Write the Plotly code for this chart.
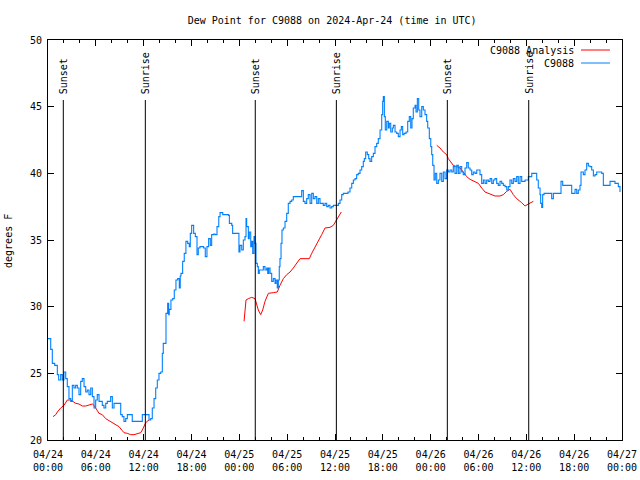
import pandas as pd
import plotly.graph_objects as go

BASE = pd.Timestamp("2024-04-24 00:00")

# Observed dew point (C9088), hours since 04/24 00:00 UTC
obs_hours = [0.00, 0.34, 0.54, 0.84, 1.17, 1.34, 1.59, 1.79, 2.00, 2.22, 2.42, 2.63, 2.85, 3.05, 3.26, 3.47, 3.68, 3.89,
             4.10, 4.30, 4.52, 4.73, 4.93, 5.14, 5.36, 5.56, 5.77, 5.98, 6.18, 6.40, 6.61, 6.81, 7.02, 7.24, 7.44, 7.65,
             7.86, 8.07, 8.28, 8.49, 8.69, 8.91, 9.12, 9.32, 9.53, 9.75, 9.95, 10.16, 10.37, 10.57, 10.79, 11.20, 11.63,
             11.83, 12.04, 12.46, 12.67, 12.88, 13.08, 13.30, 13.51, 13.71, 13.92, 14.14, 14.34, 14.46, 14.80, 15.01,
             15.14, 15.21, 15.42, 15.64, 15.84, 16.05, 16.27, 16.47, 16.59, 16.68, 16.89, 17.09, 17.30, 17.52, 17.72,
             17.85, 18.02, 18.27, 18.48, 18.69, 18.85, 19.06, 19.31, 19.52, 19.73, 19.94, 20.15, 20.36, 20.53, 20.79,
             20.95, 21.20, 21.42, 21.58, 21.92, 22.34, 22.63, 22.75, 23.05, 23.16, 23.54, 23.75, 23.95, 24.08, 24.30,
             24.50, 24.71, 24.84, 24.92, 25.13, 25.25, 25.43, 25.55, 25.68, 25.84, 25.97, 26.09, 26.26, 26.38, 26.51,
             26.76, 27.01, 27.22, 27.43, 27.56, 27.68, 27.85, 28.06, 28.26, 28.48, 28.60, 28.76, 28.89, 29.01, 29.10,
             29.23, 29.35, 29.52, 29.73, 29.94, 30.14, 30.36, 30.57, 30.77, 31.20, 31.61, 31.82, 32.03, 32.24, 32.45,
             32.65, 32.87, 33.08, 33.28, 33.49, 33.71, 33.91, 34.12, 34.33, 34.53, 34.75, 34.96, 35.16, 35.37, 35.59,
             35.79, 36.00, 36.21, 36.42, 36.63, 36.84, 37.04, 37.38, 37.63, 37.88, 38.10, 38.30, 38.51, 38.72, 38.92,
             39.14, 39.35, 39.55, 39.68, 39.85, 40.05, 40.23, 40.39, 40.60, 40.81, 41.02, 41.23, 41.43, 41.65, 41.86,
             41.98, 42.06, 42.19, 42.31, 42.49, 42.69, 42.81, 42.99, 43.19, 43.32, 43.53, 43.74, 43.94, 44.16, 44.32,
             44.49, 44.66, 44.91, 45.12, 45.32, 45.50, 45.66, 45.82, 46.04, 46.16, 46.33, 46.50, 46.66, 46.88, 47.08,
             47.29, 47.50, 47.63, 47.83, 48.01, 48.13, 48.26, 48.42, 48.58, 48.76, 48.96, 49.17, 49.39, 49.59, 49.80,
             50.01, 50.21, 50.43, 50.64, 50.84, 51.05, 51.27, 51.47, 51.68, 51.89, 52.09, 52.31, 52.52, 52.72, 52.94,
             53.15, 53.35, 53.56, 53.78, 53.98, 54.19, 54.40, 54.61, 54.82, 55.03, 55.23, 55.45, 55.66, 55.86, 56.07,
             56.28, 56.48, 56.70, 56.91, 57.11, 57.33, 57.54, 57.74, 57.95, 58.17, 58.37, 58.58, 58.79, 58.99, 59.21,
             59.42, 59.62, 59.84, 60.05, 60.25, 60.46, 60.68, 61.09, 61.30, 61.50, 61.72, 61.80, 61.93, 62.05, 62.22,
             62.56, 62.97, 63.18, 63.39, 63.81, 64.23, 64.35, 64.56, 65.07, 65.48, 65.69, 65.89, 66.11, 66.32, 66.52,
             66.73, 66.86, 67.15, 67.36, 67.57, 67.78, 67.99, 68.20, 68.41, 68.62, 68.83, 69.24, 69.46, 69.66, 70.08,
             70.50, 70.91, 71.12, 71.34, 71.54, 71.75]
obs_dewpt = [27.6, 26.8, 25.75, 25.6, 24.9, 24.5, 24.9, 24.5, 25.1, 24.6, 24.0, 23.1, 22.9, 24.1, 23.9, 24.1, 23.9, 23.4,
             24.4, 24.6, 24.0, 23.6, 23.75, 23.4, 23.9, 23.25, 22.4, 23.0, 23.4, 22.9, 22.9, 22.6, 22.4, 22.75, 22.9, 22.9,
             23.25, 22.4, 22.75, 22.75, 22.75, 22.75, 21.9, 21.75, 21.4, 21.6, 21.9, 21.9, 21.9, 21.4, 21.4, 21.4, 21.4,
             21.9, 21.9, 21.9, 21.5, 21.6, 22.4, 23.1, 23.9, 24.5, 25.0, 25.1, 26.5, 27.25, 29.5, 30.25,
             29.4, 29.8, 30.5, 30.6, 31.25, 32.0, 32.1, 31.4, 32.3, 32.5, 33.4, 34.0, 34.9, 34.75, 34.5,
             35.5, 36.1, 35.5, 35.25, 33.9, 34.4, 34.5, 34.5, 34.4, 33.75, 34.5, 35.1, 34.6, 35.4, 35.45,
             35.4, 36.0, 36.75, 37.05, 36.9, 36.9, 36.85, 36.25, 36.1, 35.5, 35.5, 35.5, 34.1, 34.6, 34.25,
             35.0, 35.25, 36.6, 36.0, 35.1, 35.6, 34.5, 34.9, 34.0, 35.25, 34.75, 33.25, 33.0, 32.5, 32.75,
             32.75, 33.0, 32.75, 32.9, 32.5, 32.9, 32.5, 31.9, 32.1, 31.75, 32.0, 31.4, 32.0, 33.0, 33.6,
             34.75, 35.75, 35.9, 36.4, 37.0, 37.75, 37.9, 38.0, 38.25, 38.25, 38.25, 38.7, 37.9, 37.75, 38.1,
             38.4, 37.75, 38.5, 38.1, 38.25, 37.75, 38.1, 37.75, 37.75, 37.6, 37.75, 37.5, 37.6, 37.4, 37.5,
             37.6, 37.6, 37.6, 37.75, 38.0, 38.4, 38.5, 38.5, 38.6, 38.9, 39.25, 39.5, 39.6, 39.9, 40.0,
             40.25, 40.5, 40.9, 41.1, 41.6, 41.4, 41.1, 40.9, 41.25, 41.5, 42.0, 42.25, 42.6, 43.25, 44.4,
             45.4, 45.75, 44.25, 43.25, 43.9, 43.4, 43.75, 43.1, 43.4, 43.6, 43.1, 43.0, 42.75, 43.25, 43.5,
             42.9, 43.0, 43.1, 43.9, 44.25, 43.4, 44.1, 44.9, 45.1, 44.6, 45.6, 44.75, 44.25, 45.0, 44.75,
             44.4, 43.9, 43.4, 42.6, 42.0, 41.4, 40.6, 39.5, 40.0, 39.25, 39.5, 40.0, 39.4, 40.1, 39.6,
             40.25, 40.1, 40.25, 40.1, 40.5, 40.0, 40.6, 40.0, 40.5, 40.1, 39.9, 40.4, 40.8, 40.4, 40.25,
             39.9, 40.1, 40.0, 40.25, 40.25, 39.9, 39.25, 39.5, 39.25, 39.5, 39.4, 39.6, 39.25, 39.5, 39.6,
             39.25, 39.1, 39.4, 39.25, 39.1, 39.0, 38.75, 39.0, 39.5, 39.25, 39.6, 39.4, 39.75, 39.25, 39.75,
             39.4, 39.4, 39.5, 39.5, 39.75, 39.75, 40.0, 40.0, 39.5, 38.9, 38.4, 37.75, 37.45, 38.4, 38.5,
             38.5, 38.5, 38.1, 38.5, 38.5, 38.5, 39.4, 39.1, 39.1, 39.1, 38.5, 38.5, 38.8, 38.5, 38.75,
             39.1, 40.1, 39.9, 40.25, 40.75, 40.55, 40.5, 40.25, 39.8, 39.9, 40.1, 40.1, 40.0, 39.1, 39.1,
             39.4, 39.4, 39.25, 39.25, 39.0, 38.6]

# Analysis dew point (C9088 Analysis), three separate night-time runs
ana_hours_1 = [0.63, 0.97, 1.17, 1.59, 2.01, 2.22, 2.42, 2.85, 3.05, 3.47, 3.89, 4.30, 4.73, 5.14, 5.56, 5.77, 5.98,
               6.40, 6.81, 7.24, 7.65, 8.07, 8.49, 8.91, 9.32, 9.53, 9.95, 10.37, 10.79, 11.20, 11.63, 11.83, 12.04,
               12.26, 12.46, 12.67]
ana_dewpt_1 = [21.75, 21.9, 22.1, 22.4, 22.6, 22.8, 23.0, 23.0, 22.9, 22.75, 22.7, 22.55, 22.55, 22.6, 22.7, 22.6, 22.4,
               22.0, 21.9, 21.6, 21.45, 21.3, 21.1, 21.0, 20.7, 20.55, 20.5, 20.4, 20.4, 20.5, 20.55, 20.75, 21.05,
               21.3, 21.4, 21.5]
ana_hours_2 = [24.59, 24.71, 24.84, 25.13, 25.55, 25.97, 26.18, 26.38, 26.68, 26.93, 27.22, 27.64, 28.26, 28.76, 29.10,
               29.52, 29.94, 30.36, 30.77, 31.20, 31.61, 32.24, 32.78, 33.08, 33.49, 33.91, 34.33, 34.75, 35.37, 35.79,
               36.21, 36.54, 36.79]
ana_dewpt_2 = [28.9, 29.8, 30.5, 30.6, 30.7, 30.6, 30.2, 29.75, 29.4, 29.75, 30.4, 31.0, 31.05, 31.1, 31.6,
               32.1, 32.4, 32.6, 32.9, 33.25, 33.6, 33.6, 33.6, 34.0, 34.5, 34.9, 35.4, 35.9, 35.95, 36.1,
               36.5, 36.9, 37.1]
ana_hours_3 = [48.76, 49.17, 49.59, 50.01, 50.21, 50.43, 50.84, 51.27, 51.68, 52.09, 52.52, 52.94, 53.56, 53.98, 54.40,
               54.82, 55.45, 56.07, 56.70, 57.11, 57.54, 57.95, 58.37, 58.79, 59.42, 59.84, 60.25, 60.88]
ana_dewpt_3 = [42.1, 41.9, 41.6, 41.4, 41.1, 40.9, 40.6, 40.5, 40.4, 40.1, 39.75, 39.55, 39.4, 39.25, 38.9,
               38.6, 38.45, 38.3, 38.3, 38.4, 38.65, 38.8, 38.4, 38.1, 37.8, 37.55, 37.7, 37.9]

sun_event_hours = [1.92, 12.21, 26.0, 36.17, 50.09, 60.3]
sun_event_labels = ["Sunset", "Sunrise", "Sunset", "Sunrise", "Sunset", "Sunrise"]

legend_labels = ["C9088 Analysis", "C9088"]
RED = "#ff0000"
BLUE = "#0080ff"
FONT = "DejaVu Sans Mono"


def to_time(hours):
    return [None if h is None else BASE + pd.Timedelta(hours=h) for h in hours]


ana_hours = ana_hours_1 + [None] + ana_hours_2 + [None] + ana_hours_3
ana_dewpt = ana_dewpt_1 + [None] + ana_dewpt_2 + [None] + ana_dewpt_3

fig = go.Figure()
fig.add_trace(go.Scatter(x=to_time(ana_hours), y=ana_dewpt, mode="lines", name=legend_labels[0],
                         line=dict(color=RED, width=1), connectgaps=False, showlegend=False))
fig.add_trace(go.Scatter(x=to_time(obs_hours), y=obs_dewpt, mode="lines", name=legend_labels[1],
                         line=dict(color=BLUE, width=1.1, shape="hv"), showlegend=False))

shapes = []
annotations = []
for h, lab in zip(sun_event_hours, sun_event_labels):
    t = BASE + pd.Timedelta(hours=h)
    shapes.append(dict(type="line", xref="x", yref="y", x0=t, x1=t, y0=20, y1=45.5,
                       line=dict(color="black", width=1)))
    annotations.append(dict(x=t, y=45.5, xref="x", yref="y", text=lab, textangle=-90, showarrow=False,
                            xanchor="center", yanchor="bottom", yshift=4, xshift=0,
                            font=dict(family=FONT, size=10, color="black")))

# legend drawn as text with line sample on its right (gnuplot style)
for i, (lab, col) in enumerate(zip(legend_labels, [RED, BLUE])):
    yp = 0.975 - i * 0.0325
    annotations.append(dict(x=0.92, y=yp, xref="paper", yref="paper", text=lab, showarrow=False,
                            xanchor="right", yanchor="middle", font=dict(family=FONT, size=10, color="black")))
    shapes.append(dict(type="line", xref="paper", yref="paper", x0=0.9286, x1=0.979, y0=yp, y1=yp,
                       line=dict(color=col, width=1)))

annotations.append(dict(x=-0.068, y=0.4975, xref="paper", yref="paper", text="degrees F", textangle=-90,
                        showarrow=False, xanchor="center", yanchor="middle",
                        font=dict(family=FONT, size=10, color="black")))

fig.update_layout(
    width=640, height=480,
    margin=dict(l=48, r=18, t=40, b=40, autoexpand=False),
    paper_bgcolor="white", plot_bgcolor="white",
    title=dict(text="Dew Point for C9088 on 2024-Apr-24 (time in UTC)", x=0.519, xanchor="center",
               y=0.958, yanchor="middle", font=dict(family=FONT, size=10, color="black")),
    font=dict(family=FONT, size=10, color="black"),
    shapes=shapes, annotations=annotations,
    showlegend=False,
)
fig.update_xaxes(
    range=[BASE, BASE + pd.Timedelta(hours=72)],
    tick0=BASE, dtick=6 * 3600 * 1000, tickformat="%m/%d<br>%H:%M",
    ticks="inside", ticklen=6, tickcolor="black", showline=True, linecolor="black", linewidth=1,
    mirror="ticks", showgrid=False, zeroline=False, automargin=False, ticklabelstandoff=5,
    ticklabeloverflow="allow",
    minor=dict(dtick=2 * 3600 * 1000, ticks="inside", ticklen=3, tickcolor="black", showgrid=False),
    tickfont=dict(family=FONT, size=10, color="black"),
)
fig.update_yaxes(
    range=[20, 50], dtick=5, ticks="inside", ticklen=6, tickcolor="black",
    showline=True, linecolor="black", linewidth=1, mirror="ticks", showgrid=False, zeroline=False,
    automargin=False, ticklabelstandoff=3,
    tickfont=dict(family=FONT, size=10, color="black"),
)

fig.write_html("out.html", config={"displayModeBar": False, "staticPlot": True},
               post_script="document.body.style.margin='0';document.body.style.overflow='hidden';")
